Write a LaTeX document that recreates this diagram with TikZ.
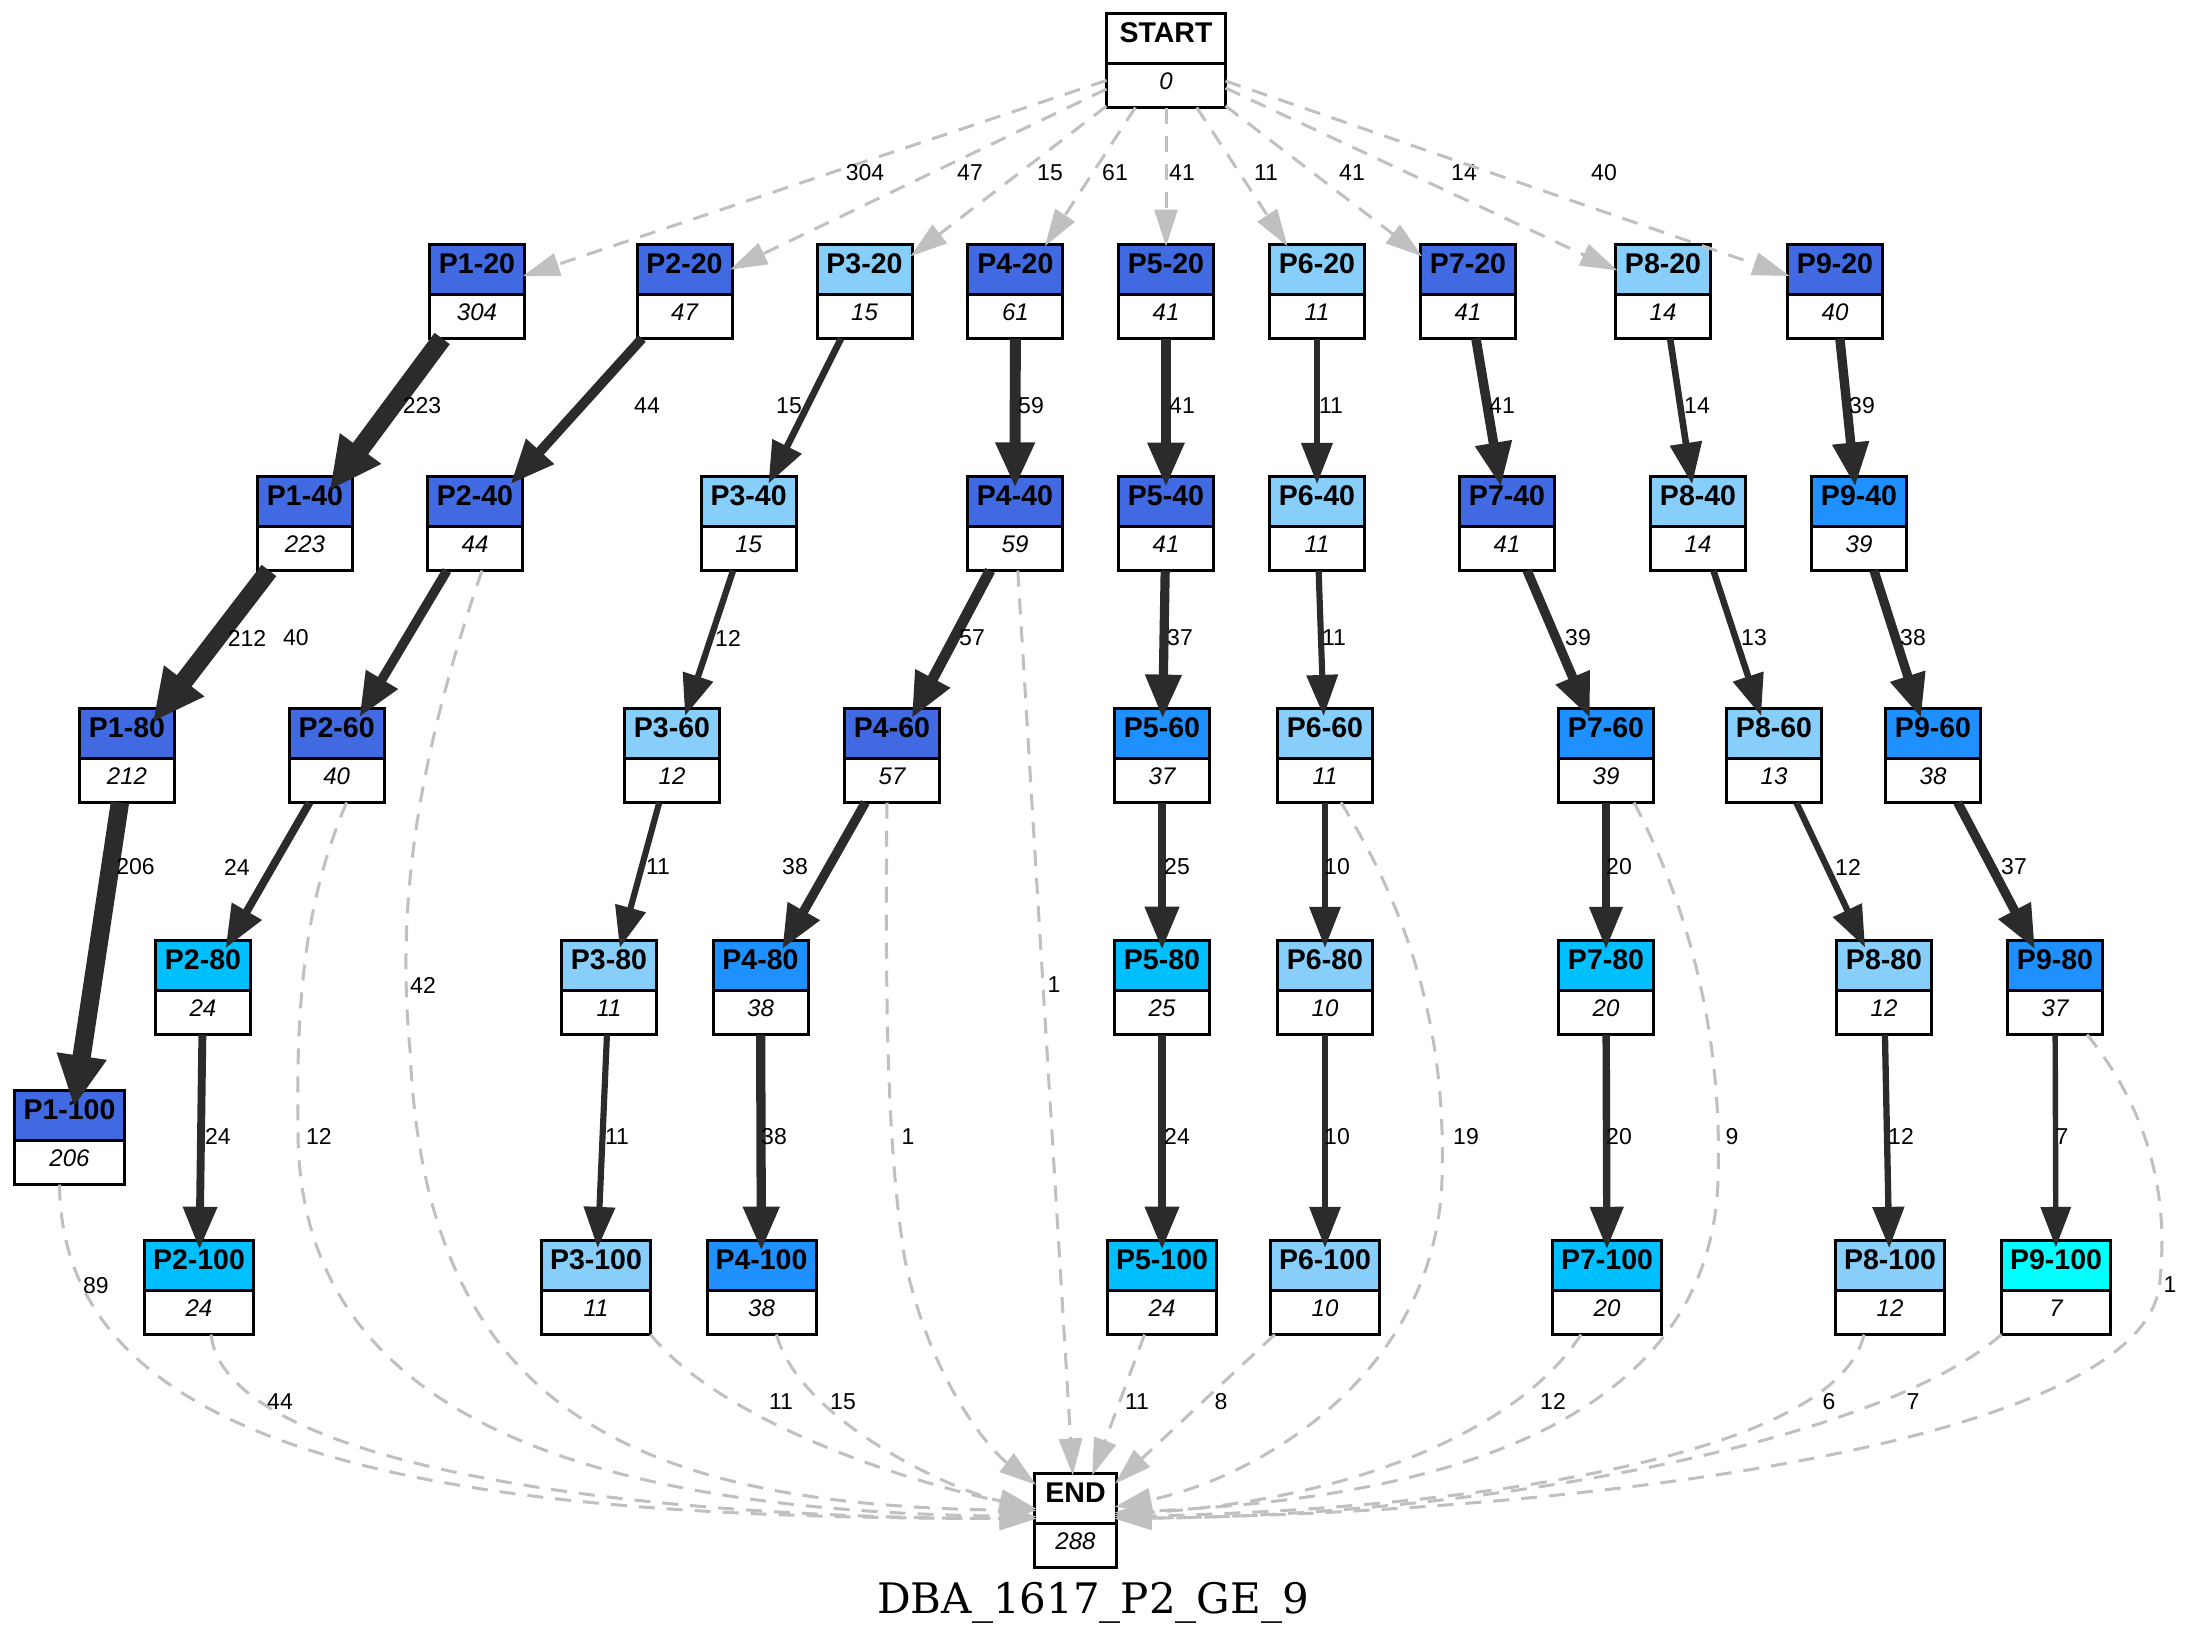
\documentclass[tikz,border=0pt]{standalone}
\usepackage{fontspec}
\setmainfont{Liberation Sans}
\newfontfamily\titlefont{DejaVu Serif}
\usetikzlibrary{arrows.meta}

\definecolor{rb}{HTML}{4169E1}
\definecolor{db}{HTML}{1E90FF}
\definecolor{ds}{HTML}{00BFFF}
\definecolor{ls}{HTML}{87CEFA}
\definecolor{cy}{HTML}{00FFFF}
\definecolor{flowc}{HTML}{2B2B2B}
\definecolor{dashc}{HTML}{C0C0C0}

\tikzset{
  boxbase/.style={rectangle, minimum height=94pt, inner sep=0pt, outer sep=0pt, fill=white},
  boxline/.style={draw=black, line width=3pt},
  headtext/.style={font=\fontsize{28.5}{30}\selectfont\bfseries, inner sep=0pt},
  counttext/.style={font=\fontsize{24}{26}\selectfont\itshape, inner sep=0pt},
  lbl/.style={font=\fontsize{23}{25}\selectfont, inner sep=0pt},
  dflow/.style={draw=dashc, line width=3pt, dash pattern=on 16pt off 12pt,
    -{Triangle[length=37pt,width=23pt]}, shorten >=-2pt},
  sflow/.style={draw=flowc},
}

% two-part box: name, centre x, top y, header colour, title, count, outer width
\newcommand{\flowbox}[7]{%
  \node[boxbase, minimum width={#7-3}] (#1) at (#2,{#3+48.5}) {};
  \fill[#4] (#1.north west) rectangle ([yshift=-49.5pt]#1.north east);
  \draw[boxline] (#1.north west) rectangle (#1.south east);
  \draw[boxline] ([yshift=-49.5pt]#1.north west) -- ([yshift=-49.5pt]#1.north east);
  \node[headtext, anchor=base] (#1h) at ([yshift=-28.5pt]#1.north) {#5};
  \node[counttext, anchor=base] (#1c) at ([yshift=-75.5pt]#1.north) {#6};
}

% solid transition whose width grows with its count
\newcommand{\flowedge}[5]{%
  \pgfmathsetmacro{\fpw}{2.5+1.1*sqrt(#3)}%
  \pgfmathsetmacro{\fal}{36+0.85*\fpw}%
  \pgfmathsetmacro{\faw}{22+1.35*\fpw}%
  \pgfmathsetmacro{\fex}{3+0.75*\fpw}%
  \draw[sflow, line width=\fpw pt, -{Triangle[length=\fal pt, width=\faw pt]},
    shorten >=-\fex pt] (#1) -- (#2) node[lbl, at={(#4,#5)}] {#3};
}

\begin{document}
\begin{tikzpicture}[x=1pt, y=-1pt]
\useasboundingbox (0,0) rectangle (2190,1650);
\fill[white] (0,0) rectangle (2190,1650);

% ---------- boxes ----------
\flowbox{start}{1166}{12}{white}{START}{0}{122}

\flowbox{p1r20}{477}{243}{rb}{P1-20}{304}{98}
\flowbox{p2r20}{684.5}{243}{rb}{P2-20}{47}{98}
\flowbox{p3r20}{864.5}{243}{ls}{P3-20}{15}{98}
\flowbox{p4r20}{1015.4}{243}{rb}{P4-20}{61}{98}
\flowbox{p5r20}{1166}{243}{rb}{P5-20}{41}{98}
\flowbox{p6r20}{1317}{243}{ls}{P6-20}{11}{98}
\flowbox{p7r20}{1468}{243}{rb}{P7-20}{41}{98}
\flowbox{p8r20}{1663}{243}{ls}{P8-20}{14}{98}
\flowbox{p9r20}{1835}{243}{rb}{P9-20}{40}{98}

\flowbox{p1r40}{305}{475}{rb}{P1-40}{223}{98}
\flowbox{p2r40}{475}{475}{rb}{P2-40}{44}{98}
\flowbox{p3r40}{748.6}{475}{ls}{P3-40}{15}{98}
\flowbox{p4r40}{1015}{475}{rb}{P4-40}{59}{98}
\flowbox{p5r40}{1166}{475}{rb}{P5-40}{41}{98}
\flowbox{p6r40}{1317}{475}{ls}{P6-40}{11}{98}
\flowbox{p7r40}{1507}{475}{rb}{P7-40}{41}{98}
\flowbox{p8r40}{1698}{475}{ls}{P8-40}{14}{98}
\flowbox{p9r40}{1859}{475}{db}{P9-40}{39}{98}

\flowbox{p1r80}{127}{707}{rb}{P1-80}{212}{98}
\flowbox{p2r60}{336.6}{707}{rb}{P2-60}{40}{98}
\flowbox{p3r60}{672}{707}{ls}{P3-60}{12}{98}
\flowbox{p4r60}{892}{707}{rb}{P4-60}{57}{98}
\flowbox{p5r60}{1162}{707}{db}{P5-60}{37}{98}
\flowbox{p6r60}{1325}{707}{ls}{P6-60}{11}{98}
\flowbox{p7r60}{1606}{707}{db}{P7-60}{39}{98}
\flowbox{p8r60}{1774}{707}{ls}{P8-60}{13}{98}
\flowbox{p9r60}{1933}{707}{db}{P9-60}{38}{98}

\flowbox{p2r80}{203}{939}{ds}{P2-80}{24}{98}
\flowbox{p3r80}{609}{939}{ls}{P3-80}{11}{98}
\flowbox{p4r80}{760.5}{939}{db}{P4-80}{38}{98}
\flowbox{p5r80}{1162}{939}{ds}{P5-80}{25}{98}
\flowbox{p6r80}{1325}{939}{ls}{P6-80}{10}{98}
\flowbox{p7r80}{1606}{939}{ds}{P7-80}{20}{98}
\flowbox{p8r80}{1884}{939}{ls}{P8-80}{12}{98}
\flowbox{p9r80}{2055}{939}{db}{P9-80}{37}{98}

\flowbox{p1r100}{69.5}{1089}{rb}{P1-100}{206}{113}

\flowbox{p2r100}{199}{1239}{ds}{P2-100}{24}{112}
\flowbox{p3r100}{596}{1239}{ls}{P3-100}{11}{112}
\flowbox{p4r100}{761.5}{1239}{db}{P4-100}{38}{112}
\flowbox{p5r100}{1162}{1239}{ds}{P5-100}{24}{112}
\flowbox{p6r100}{1325}{1239}{ls}{P6-100}{10}{112}
\flowbox{p7r100}{1607}{1239}{ds}{P7-100}{20}{112}
\flowbox{p8r100}{1890}{1239}{ls}{P8-100}{12}{112}
\flowbox{p9r100}{2056}{1239}{cy}{P9-100}{7}{112}

\flowbox{end}{1075.5}{1472}{white}{END}{288}{85}

\node[font=\titlefont\fontsize{42}{46}\selectfont, anchor=base, inner sep=0pt] (title)
  at (1093,1613) {DBA\_1617\_P2\_GE\_9};

% ---------- entries from START ----------
\draw[dflow] (start) -- (p1r20) node[lbl, at={(865,173)}] {304};
\draw[dflow] (start) -- (p2r20) node[lbl, at={(970,173)}] {47};
\draw[dflow] (start) -- (p3r20) node[lbl, at={(1050,173)}] {15};
\draw[dflow] (start) -- (p4r20) node[lbl, at={(1115,173)}] {61};
\draw[dflow] (start) -- (p5r20) node[lbl, at={(1182,173)}] {41};
\draw[dflow] (start) -- (p6r20) node[lbl, at={(1266,173)}] {11};
\draw[dflow] (start) -- (p7r20) node[lbl, at={(1352,173)}] {41};
\draw[dflow] (start) -- (p8r20) node[lbl, at={(1464,173)}] {14};
\draw[dflow] (start) -- (p9r20) node[lbl, at={(1604,173)}] {40};

% ---------- solid transitions ----------
\flowedge{p1r20}{p1r40}{223}{422}{406}
\flowedge{p2r20}{p2r40}{44}{647}{406}
\flowedge{p3r20}{p3r40}{15}{789}{406}
\flowedge{p4r20}{p4r40}{59}{1031}{406}
\flowedge{p5r20}{p5r40}{41}{1182}{406}
\flowedge{p6r20}{p6r40}{11}{1331}{406}
\flowedge{p7r20}{p7r40}{41}{1502}{406}
\flowedge{p8r20}{p8r40}{14}{1697}{406}
\flowedge{p9r20}{p9r40}{39}{1862}{406}

\flowedge{p1r40}{p1r80}{212}{247}{638}
\flowedge{p2r40}{p2r60}{40}{296}{638}
\flowedge{p3r40}{p3r60}{12}{728}{638}
\flowedge{p4r40}{p4r60}{57}{972}{638}
\flowedge{p5r40}{p5r60}{37}{1180}{638}
\flowedge{p6r40}{p6r60}{11}{1334}{638}
\flowedge{p7r40}{p7r60}{39}{1578}{638}
\flowedge{p8r40}{p8r60}{13}{1754}{638}
\flowedge{p9r40}{p9r60}{38}{1913}{638}

\flowedge{p1r80}{p1r100}{206}{135.5}{867}
\flowedge{p2r60}{p2r80}{24}{237}{867}
\flowedge{p3r60}{p3r80}{11}{658}{867}
\flowedge{p4r60}{p4r80}{38}{795}{867}
\flowedge{p5r60}{p5r80}{25}{1177}{867}
\flowedge{p6r60}{p6r80}{10}{1337}{867}
\flowedge{p7r60}{p7r80}{20}{1619}{867}
\flowedge{p8r60}{p8r80}{12}{1848}{867}
\flowedge{p9r60}{p9r80}{37}{2014}{867}

\flowedge{p2r80}{p2r100}{24}{218}{1136.5}
\flowedge{p3r80}{p3r100}{11}{617}{1136.5}
\flowedge{p4r80}{p4r100}{38}{774}{1136.5}
\flowedge{p5r80}{p5r100}{24}{1177}{1136.5}
\flowedge{p6r80}{p6r100}{10}{1337}{1136.5}
\flowedge{p7r80}{p7r100}{20}{1619}{1136.5}
\flowedge{p8r80}{p8r100}{12}{1901}{1136.5}
\flowedge{p9r80}{p9r100}{7}{2062}{1136.5}

% ---------- exits to END ----------
\draw[dflow] ([xshift=-10pt]p1r100.south) .. controls (62,1480) and (520,1518) .. ([yshift=2pt]end.west)
  node[lbl, at={(96,1286)}] {89};
\draw[dflow] ([xshift=12pt]p2r100.south) .. controls (225,1460) and (600,1518) .. ([yshift=2pt]end.west)
  node[lbl, at={(280,1401.5)}] {44};
\draw[dflow] ([xshift=10pt]p2r60.south) .. controls (305,900) and (296,1000) .. (298,1130)
  .. controls (298,1360) and (480,1510) .. ([yshift=4pt]end.west)
  node[lbl, at={(319,1136.5)}] {12};
\draw[dflow] ([xshift=7pt]p2r40.south) .. controls (410,780) and (398,920) .. (410,1050)
  .. controls (425,1400) and (620,1505) .. ([yshift=10pt]end.west)
  node[lbl, at={(423,985)}] {42};
\draw[dflow] (p3r100.south east) .. controls (720,1420) and (900,1480) .. ([yshift=12pt]end.west)
  node[lbl, at={(781,1401.5)}] {11};
\draw[dflow] ([xshift=15pt]p4r100.south) .. controls (800,1420) and (950,1490) .. ([yshift=12pt]end.west)
  node[lbl, at={(843,1401.5)}] {15};
\draw[dflow] ([xshift=-5pt]p4r60.south) .. controls (885,1000) and (887,1150) .. (905,1260)
  .. controls (930,1380) and (990,1450) .. (end.138)
  node[lbl, at={(908,1136.5)}] {1};
\draw[dflow] (p4r40) -- (end) node[lbl, at={(1054,985)}] {1};
\draw[dflow] (p5r100) -- (end) node[lbl, at={(1137,1401.5)}] {11};
\draw[dflow] (p6r100) -- (end) node[lbl, at={(1221,1401.5)}] {8};
\draw[dflow] ([xshift=16pt]p6r60.south) .. controls (1420,930) and (1446,1050) .. (1442,1180)
  .. controls (1435,1380) and (1250,1480) .. ([yshift=14pt]end.east)
  node[lbl, at={(1466,1136.5)}] {19};
\draw[dflow] ([xshift=28pt]p7r60.south) .. controls (1700,930) and (1722,1060) .. (1718,1180)
  .. controls (1710,1440) and (1400,1500) .. ([yshift=8pt]end.east)
  node[lbl, at={(1732,1136.5)}] {9};
\draw[dflow] ([xshift=-26pt]p7r100.south) .. controls (1520,1430) and (1350,1500) .. ([yshift=6pt]end.east)
  node[lbl, at={(1553,1401.5)}] {12};
\draw[dflow] ([xshift=-26pt]p8r100.south) .. controls (1835,1460) and (1450,1510) .. ([yshift=4pt]end.east)
  node[lbl, at={(1829,1401.5)}] {6};
\draw[dflow] (p9r100.south west) .. controls (1880,1440) and (1500,1515) .. ([yshift=2pt]end.east)
  node[lbl, at={(1913,1401.5)}] {7};
\draw[dflow] ([xshift=32pt]p9r80.south) .. controls (2140,1100) and (2170,1180) .. (2160,1280)
  .. controls (2152,1440) and (1600,1512) .. ([yshift=2pt]end.east)
  node[lbl, at={(2170,1285)}] {1};
\end{tikzpicture}
\end{document}
